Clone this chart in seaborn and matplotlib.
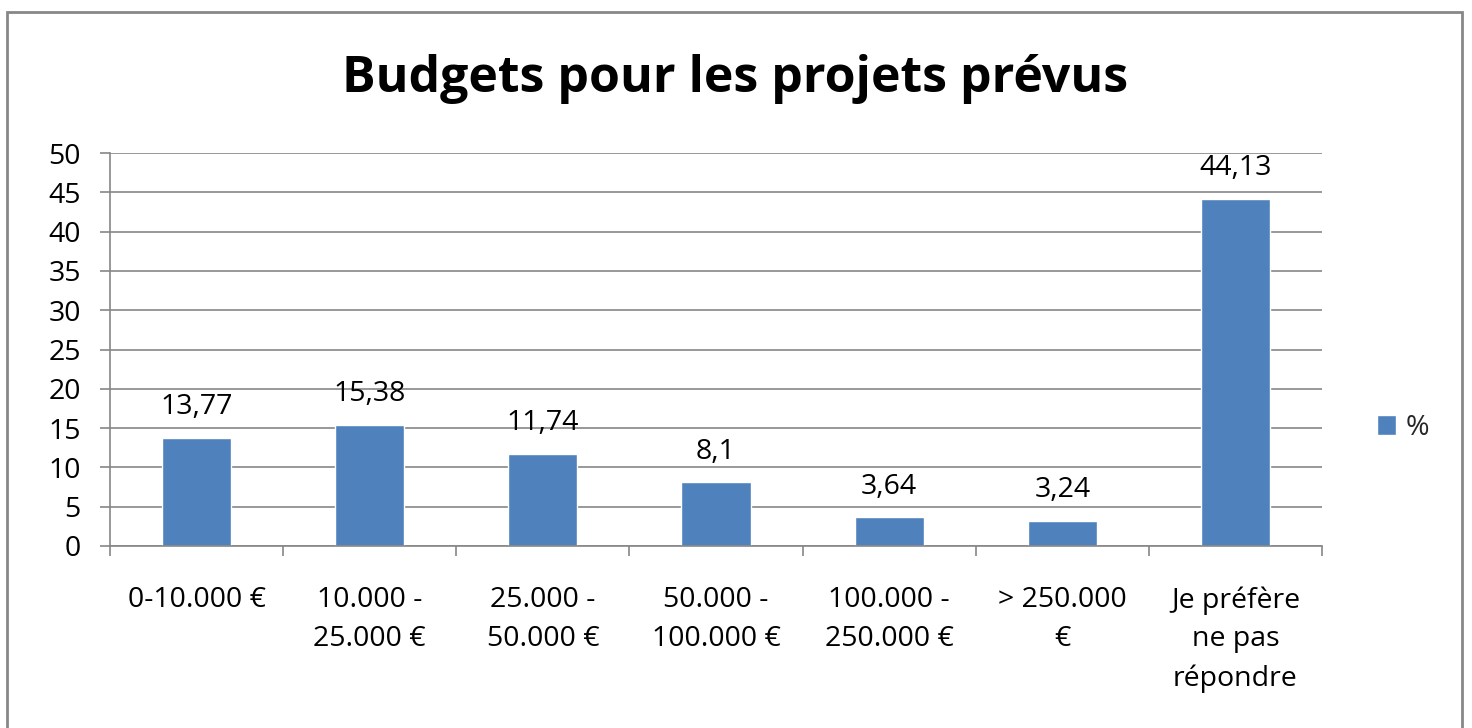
import matplotlib
matplotlib.use("Agg")
import matplotlib.pyplot as plt
import seaborn as sns
import pandas as pd
from matplotlib.patches import Rectangle

categories = ["0-10.000 €", "10.000 -\n25.000 €", "25.000 -\n50.000 €",
              "50.000 -\n100.000 €", "100.000 -\n250.000 €", "> 250.000\n€",
              "Je préfère\nne pas\nrépondre"]
values = [13.77, 15.38, 11.74, 8.1, 3.64, 3.24, 44.13]
value_labels = ["13,77", "15,38", "11,74", "8,1", "3,64", "3,24", "44,13"]
y_ticks = [0, 5, 10, 15, 20, 25, 30, 35, 40, 45, 50]
series_name = "%"
title = "Budgets pour les projets prévus"

sns.set_theme(style="white")
plt.rcParams['font.family'] = ['Open Sans', 'DejaVu Sans']

df = pd.DataFrame({"cat": categories, "val": values, "series": series_name})

fig = plt.figure(figsize=(14.72, 7.28), dpi=100)
ax = fig.add_axes([110/1472, 1-546/728, (1322-110)/1472, (546-153)/728])

bar_color = "#4F81BD"
grid_color = "#868686"
fs = 20.5
sns.barplot(data=df, x="cat", y="val", hue="series", palette=[bar_color],
            width=0.4, ax=ax, legend=True, saturation=1)

ax.set_xlim(-0.5, len(categories) - 0.5)
ax.set_ylim(0, 50)
ax.set_yticks(y_ticks)
ax.set_yticklabels([str(t) for t in y_ticks])
ax.set_xlabel("")
ax.set_ylabel("")
ax.yaxis.grid(True, color=grid_color, linewidth=1.2)
ax.set_axisbelow(True)
for s in ["top", "right"]:
    ax.spines[s].set_visible(False)
for s in ["left", "bottom"]:
    ax.spines[s].set_color(grid_color)
    ax.spines[s].set_linewidth(1.2)

ax.tick_params(axis="y", which="major", left=True, length=7, width=1.2,
               color=grid_color, pad=14, labelsize=fs, labelcolor="#000000")
ax.set_xticks(range(len(categories)))
ax.set_xticklabels(categories, linespacing=1.5)
ax.tick_params(axis="x", which="major", length=0, pad=29, labelsize=fs,
               labelcolor="#000000")
ax.set_xticks([i - 0.5 for i in range(len(categories) + 1)], minor=True)
ax.tick_params(axis="x", which="minor", bottom=True, length=7, width=1.2,
               color=grid_color)

for cont in ax.containers:
    ax.bar_label(cont, labels=value_labels, padding=12, fontsize=fs,
                 color="#000000")

leg = ax.get_legend()
handles, labels = ax.get_legend_handles_labels()
leg.remove()
fig.legend(handles, labels, loc="center left",
           bbox_to_anchor=(1366/1472, 1-428/728), frameon=False,
           fontsize=fs, handlelength=0.65, handleheight=0.65,
           handletextpad=0.35, borderaxespad=0)

fig.text(735/1472, 1-79/728, title, ha="center", va="center",
         fontsize=36, fontweight="bold", color="#000000")

fig.patches.append(Rectangle((7/1472, -0.02), 1455/1472, 1 - 12/728 + 0.02,
                             transform=fig.transFigure, fill=False,
                             edgecolor="#878787", linewidth=2, zorder=10))

fig.savefig("out.png", dpi=100)
